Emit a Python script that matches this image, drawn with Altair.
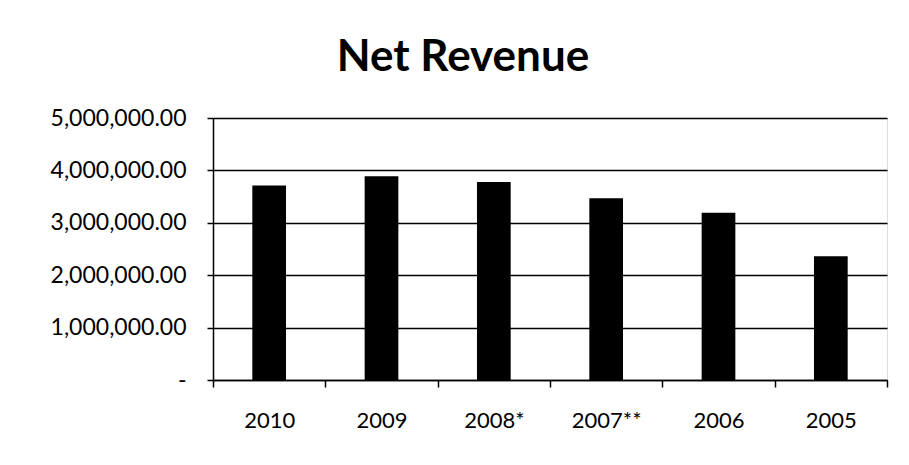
import altair as alt
import pandas as pd

years = ["2010", "2009", "2008*", "2007**", "2006", "2005"]
revenue = [3710000, 3890000, 3780000, 3470000, 3190000, 2360000]

df = pd.DataFrame({"year": years, "revenue": revenue})

FONT = "Lato"

chart = alt.Chart(df).mark_bar(color="black", width=alt.RelativeBandSize(0.3)).encode(
    x=alt.X("year:N", sort=years, title=None,
            scale=alt.Scale(paddingInner=0, paddingOuter=0),
            axis=alt.Axis(labelAngle=0, tickBand="extent", tickSize=7,
                          tickColor="black", tickWidth=1.5,
                          domainColor="black", domainWidth=1.5,
                          labelPadding=23, labelFontSize=22, labelFont=FONT,
                          labelColor="black", grid=False)),
    y=alt.Y("revenue:Q", title=None,
            scale=alt.Scale(domain=[0, 5000000]),
            axis=alt.Axis(values=[0, 1000000, 2000000, 3000000, 4000000, 5000000],
                          labelExpr="datum.value == 0 ? '-' : format(datum.value, ',.2f')",
                          tickSize=6, tickColor="black", tickWidth=1.5,
                          domainColor="black", domainWidth=1.5,
                          gridColor="black", gridWidth=1.5, gridOpacity=1,
                          labelPadding=21, labelFontSize=23, labelFont=FONT,
                          labelColor="black")),
).properties(
    width=674,
    height=262,
    title=alt.TitleParams("Net Revenue", fontSize=44, font=FONT, fontWeight="bold",
                          color="black", anchor="middle", frame="group",
                          dx=-87, offset=27),
    autosize=alt.AutoSizeParams(type="none"),
    padding={"left": 205, "top": 110, "right": 14, "bottom": 70},
).configure_view(stroke=None).configure(background="white")

chart.save("out.html", embed_options={"renderer": "svg", "actions": False})
